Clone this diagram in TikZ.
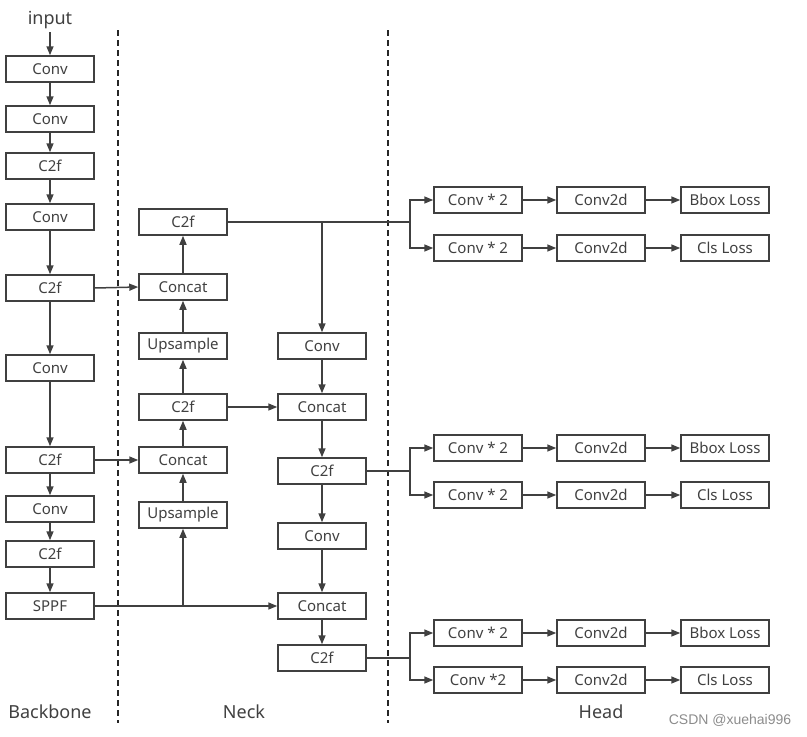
\documentclass[tikz,border=0pt]{standalone}
\usepackage{fontspec}
\setmainfont{Noto Sans}
\newfontfamily\wmfont{Liberation Sans}
\usetikzlibrary{arrows.meta}
\definecolor{ln}{HTML}{404040}
\tikzset{
  blk/.style={draw=ln, line width=1.5pt, minimum width=88pt, minimum height=26pt, inner sep=0pt,
    font=\fontsize{15}{17}\selectfont, text=ln},
  arr/.style={draw=ln, line width=1.5pt, -{Triangle[length=9pt,width=7pt]}},
  ln/.style={draw=ln, line width=1.5pt},
  sep/.style={draw=black!85, line width=1.1pt, dash pattern=on 6pt off 4pt},
  lbl/.style={font=\fontsize{18}{20}\selectfont, text=ln}
}
\begin{document}
\begin{tikzpicture}[x=1pt,y=-1pt]
\useasboundingbox (0,0) rectangle (807,737);
% separators
\draw[sep] (118,30) -- (118,723);
\draw[sep] (388,30) -- (388,723);
% backbone
\node[lbl] (in) at (50,20) {input};
\node[blk] (b1) at (50,69) {Conv};
\node[blk] (b2) at (50,119) {Conv};
\node[blk] (b3) at (50,166) {C2f};
\node[blk] (b4) at (50,217) {Conv};
\node[blk] (b5) at (50,288) {C2f};
\node[blk] (b6) at (50,368) {Conv};
\node[blk] (b7) at (50,460) {C2f};
\node[blk] (b8) at (50,509) {Conv};
\node[blk] (b9) at (50,554) {C2f};
\node[blk] (b10) at (50,606) {SPPF};
\foreach \a/\b in {in/b1,b1/b2,b2/b3,b3/b4,b4/b5,b5/b6,b6/b7,b7/b8,b8/b9,b9/b10}
  \draw[arr] (\a) -- (\b);
% neck column 1
\node[blk] (n1) at (183,222) {C2f};
\node[blk] (n2) at (183,287) {Concat};
\node[blk] (n3) at (183,346) {Upsample};
\node[blk] (n4) at (183,407) {C2f};
\node[blk] (n5) at (183,460) {Concat};
\node[blk] (n6) at (183,515) {Upsample};
\foreach \a/\b in {n6/n5,n5/n4,n4/n3,n3/n2,n2/n1}
  \draw[arr] (\a) -- (\b);
% neck column 2
\node[blk] (m1) at (322,346) {Conv};
\node[blk] (m2) at (322,407) {Concat};
\node[blk] (m3) at (322,471) {C2f};
\node[blk] (m4) at (322,536) {Conv};
\node[blk] (m5) at (322,606) {Concat};
\node[blk] (m6) at (322,658) {C2f};
\foreach \a/\b in {m1/m2,m2/m3,m3/m4,m4/m5,m5/m6}
  \draw[arr] (\a) -- (\b);
% cross connections
\draw[arr] (b5.east) -- (n2.west);
\draw[arr] (b7.east) -- (n5.west);
\draw[arr] (n4.east) -- (m2.west);
\draw[arr] (b10.east) -- (m5.west);
\coordinate (s1) at (183,606);
\draw[arr] (s1) -- (n6.south);
\coordinate (t1) at (322,222);
\draw[arr] (t1) -- (m1.north);
% head
\foreach \r/\ya/\yb/\src/\lastlbl in {1/200/248/n1/Conv * 2, 2/448/495/m3/Conv * 2, 3/633/680/m6/Conv *2}{
  \node[blk] (ha\r) at (478,\ya) {Conv * 2};
  \node[blk] (hb\r) at (601,\ya) {Conv2d};
  \node[blk] (hc\r) at (725,\ya) {Bbox Loss};
  \node[blk] (hd\r) at (478,\yb) {\lastlbl};
  \node[blk] (he\r) at (601,\yb) {Conv2d};
  \node[blk] (hf\r) at (725,\yb) {Cls Loss};
  \coordinate (sp\r) at (410,{(\ya+\yb)/2});
  \draw[ln] (\src.east) -- (\src.east -| sp\r);
  \draw[arr] (\src.east -| sp\r) |- (ha\r.west);
  \draw[arr] (\src.east -| sp\r) |- (hd\r.west);
  \draw[arr] (ha\r) -- (hb\r);
  \draw[arr] (hb\r) -- (hc\r);
  \draw[arr] (hd\r) -- (he\r);
  \draw[arr] (he\r) -- (hf\r);
}
% labels
\node[lbl] (lb) at (50,712) {Backbone};
\node[lbl] (ln) at (244,712) {Neck};
\node[lbl] (lh) at (601,712) {Head};
\node[font=\wmfont\fontsize{14}{16}\selectfont, text=black!45] (wm) at (730,720) {CSDN @xuehai996};
\end{tikzpicture}
\end{document}
